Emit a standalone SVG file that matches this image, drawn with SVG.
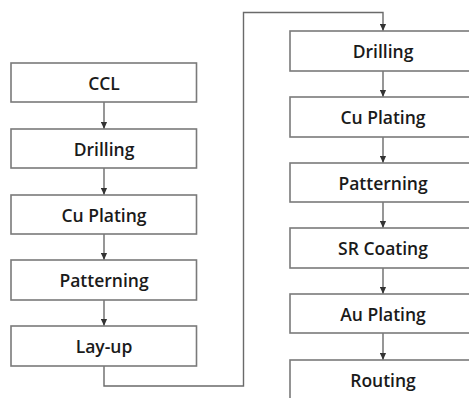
<svg xmlns="http://www.w3.org/2000/svg" width="469" height="398" viewBox="0 0 469 398">
<defs>
<marker id="ah" viewBox="0 0 8 8" refX="8" refY="4" markerWidth="7" markerHeight="7" markerUnits="userSpaceOnUse" orient="auto">
<path d="M0,0.5 L8,4 L0,7.5 Z" fill="#333"/>
</marker>
<style>
.b{fill:#fff;stroke:#7a7a7a;stroke-width:1.6}
.t{font-family:"Open Sans","Liberation Sans",sans-serif;font-weight:600;font-size:17.5px;fill:#1a1a1a;text-anchor:middle}
.c{fill:none;stroke:#6a6a6a;stroke-width:1.4}
</style>
</defs>
<rect width="469" height="398" fill="#fff"/>
<g id="connectors">
<path class="c" d="M104,102 V129" marker-end="url(#ah)"/>
<path class="c" d="M104,168 V195" marker-end="url(#ah)"/>
<path class="c" d="M104,234 V260" marker-end="url(#ah)"/>
<path class="c" d="M104,300 V326" marker-end="url(#ah)"/>
<path class="c" d="M104,366 V386 H243.5 V12.5 H383 V31" marker-end="url(#ah)"/>
<path class="c" d="M383,71 V97" marker-end="url(#ah)"/>
<path class="c" d="M383,137 V163" marker-end="url(#ah)"/>
<path class="c" d="M383,202 V228" marker-end="url(#ah)"/>
<path class="c" d="M383,268 V294" marker-end="url(#ah)"/>
<path class="c" d="M383,333 V360" marker-end="url(#ah)"/>
</g>
<g id="ccl"><rect class="b" x="11" y="63" width="185.5" height="39"/><text class="t" x="104" y="89.5">CCL</text></g>
<g id="drilling1"><rect class="b" x="11" y="129" width="185.5" height="39"/><text class="t" x="104" y="155.5">Drilling</text></g>
<g id="cuplating1"><rect class="b" x="11" y="195" width="185.5" height="39"/><text class="t" x="104" y="221.5">Cu Plating</text></g>
<g id="patterning1"><rect class="b" x="11" y="260" width="185.5" height="40"/><text class="t" x="104" y="286.5">Patterning</text></g>
<g id="layup"><rect class="b" x="11" y="326" width="185.5" height="40"/><text class="t" x="104" y="352.5">Lay-up</text></g>
<g id="drilling2"><rect class="b" x="290" y="31" width="186" height="40"/><text class="t" x="383" y="57.5">Drilling</text></g>
<g id="cuplating2"><rect class="b" x="290" y="97" width="186" height="40"/><text class="t" x="383" y="123.5">Cu Plating</text></g>
<g id="patterning2"><rect class="b" x="290" y="163" width="186" height="39"/><text class="t" x="383" y="189.5">Patterning</text></g>
<g id="srcoating"><rect class="b" x="290" y="228" width="186" height="40"/><text class="t" x="383" y="254.5">SR Coating</text></g>
<g id="auplating"><rect class="b" x="290" y="294" width="186" height="39"/><text class="t" x="383" y="320.5">Au Plating</text></g>
<g id="routing"><rect class="b" x="290" y="360" width="186" height="50"/><text class="t" x="383" y="386.5">Routing</text></g>
</svg>
